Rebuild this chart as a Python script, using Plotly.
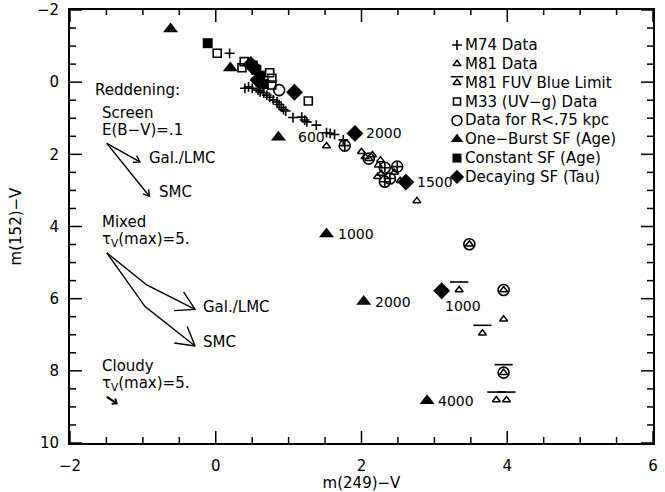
import numpy as np
import plotly.graph_objects as go

# ---------------- observed colours ----------------
# M74 (plus signs)
m74_x = [0.19, 0.40, 0.45, 0.50, 0.56, 0.58, 0.61, 0.66, 0.70, 0.74, 0.79, 0.84, 0.87, 0.90, 0.93,
         0.96, 1.06, 1.18, 1.22, 1.25, 1.38, 1.52, 1.57, 1.63, 1.75, 1.77, 2.32, 2.49, 2.32, 2.39]
m74_y = [-0.80, 0.17, 0.13, 0.17, -0.11, 0.22, 0.27, 0.30, 0.36, 0.42, 0.49, 0.55, 0.62, 0.70, 0.76,
         0.80, 0.98, 0.97, 1.05, 1.10, 1.19, 1.40, 1.42, 1.45, 1.60, 1.76, 2.37, 2.34, 2.76, 2.67]

# M81 (open triangles)
m81_x = [1.52, 2.00, 2.05, 2.10, 2.15, 2.23, 2.26, 2.22, 2.27, 2.45, 2.53, 2.76, 3.48, 3.95, 3.95]
m81_y = [1.77, 1.93, 2.07, 2.12, 2.02, 2.30, 2.16, 2.62, 2.53, 2.50, 2.73, 3.29, 4.49, 5.76, 6.57]

# M81 points that are only FUV blue limits
m81_lim_x = [3.34, 3.66, 3.95, 3.85, 3.99]
m81_lim_y = [5.76, 6.96, 8.05, 8.81, 8.81]

# M33 (UV-g) colours (open squares)
m33_x = [0.02, 0.36, 0.39, 0.51, 0.56, 0.61, 0.74, 0.77, 0.77, 1.27]
m33_y = [-0.80, -0.40, -0.57, -0.47, -0.34, -0.01, -0.26, -0.11, 0.08, 0.52]

# Data inside R < .75 kpc (open circles)
core_x = [0.87, 1.77, 2.10, 2.32, 2.49, 2.32, 2.39, 3.48, 3.95, 3.95]
core_y = [0.22, 1.76, 2.12, 2.37, 2.34, 2.76, 2.67, 4.49, 5.76, 8.05]

# ---------------- model tracks ----------------
burst_x = [-0.62, 0.20, 0.86, 1.52, 2.03, 2.90]
burst_y = [-1.47, -0.39, 1.53, 4.21, 6.08, 8.83]
burst_age = ["", "", "600", "1000", "2000", "4000"]

const_x = [-0.11, 0.55, 0.61, 0.66]
const_y = [-1.08, -0.35, -0.18, 0.05]

decay_x = [0.48, 0.58, 1.08, 1.91, 2.61, 3.10]
decay_y = [-0.49, -0.06, 0.28, 1.42, 2.77, 5.78]
decay_tau = ["", "", "", "2000", "1500", "1000"]

# ---------------- reddening vectors ----------------
screen_gal_x = [-1.495, -1.04]
screen_gal_y = [1.695, 2.21]
screen_smc_x = [-1.495, -0.91]
screen_smc_y = [1.695, 3.16]
mixed_gal_x = [-1.495, -0.947, -0.284]
mixed_gal_y = [4.73, 5.62, 6.30]
mixed_smc_x = [-1.495, -0.97, -0.284]
mixed_smc_y = [4.73, 6.22, 7.31]
cloudy_x = [-1.495, -1.36]
cloudy_y = [8.72, 8.90]

# ---------------- geometry ----------------
W, H = 665, 492
ML, MR, MT, MB = 70, 12, 10, 49
XR = (-2, 6)
YR = (10, -2)
PW, PH = W - ML - MR, H - MT - MB
FONT = "DejaVu Sans"


def to_px(x, y):
    px = ML + (np.asarray(x) - XR[0]) / (XR[1] - XR[0]) * PW
    py = MT + (np.asarray(y) - YR[1]) / (YR[0] - YR[1]) * PH
    return px, py


def to_data(px, py):
    x = XR[0] + (np.asarray(px) - ML) / PW * (XR[1] - XR[0])
    y = YR[1] + (np.asarray(py) - MT) / PH * (YR[0] - YR[1])
    return x, y


def head(xs, ys, length, half_angle_deg):
    """V-shaped arrow head at the last point of a path (screen space)."""
    px, py = to_px(xs[-2:], ys[-2:])
    d = np.array([px[1] - px[0], py[1] - py[0]])
    d /= np.hypot(*d)
    out_x, out_y = [], []
    for s in (1, -1):
        a = np.radians(s * half_angle_deg)
        r = np.array([d[0] * np.cos(a) - d[1] * np.sin(a), d[0] * np.sin(a) + d[1] * np.cos(a)])
        out_x.append(px[1] - length * r[0])
        out_y.append(py[1] - length * r[1])
    lx, ly = to_data(out_x, out_y)
    return [lx[0], xs[-1], lx[1]], [ly[0], ys[-1], ly[1]]


fig = go.Figure()
line_kw = dict(mode="lines", line=dict(color="black", width=1.4), hoverinfo="skip")

# inward tick marks on all four sides, drawn as line segments
x_per_px = (XR[1] - XR[0]) / PW
y_per_px = (YR[0] - YR[1]) / PH
tx, ty = [], []
for v in np.arange(XR[0], XR[1] + 1e-9, 0.5):
    major = abs(v / 2 - round(v / 2)) < 1e-9
    ln = (12 if major else 6) * y_per_px
    tx += [v, v, None, v, v, None]
    ty += [YR[0], YR[0] - ln, None, YR[1], YR[1] + (ln if major else 5 * y_per_px), None]
for v in np.arange(YR[1], YR[0] + 1e-9, 0.5):
    major = abs(v / 2 - round(v / 2)) < 1e-9
    ln = (12 if major else 6) * x_per_px
    tx += [XR[0], XR[0] + ln, None, XR[1], XR[1] - ln, None]
    ty += [v, v, None, v, v, None]
fig.add_trace(go.Scatter(x=tx, y=ty, mode="lines", line=dict(color="black", width=1.5),
                         hoverinfo="skip", cliponaxis=False))

# reddening vectors with open heads
for xs, ys, hl, ha in [(screen_gal_x, screen_gal_y, 7, 32), (screen_smc_x, screen_smc_y, 7, 32),
                       (mixed_gal_x, mixed_gal_y, 21, 30), (mixed_smc_x, mixed_smc_y, 21, 30)]:
    fig.add_trace(go.Scatter(x=xs, y=ys, **line_kw))
    hx, hy = head(xs, ys, hl, ha)
    fig.add_trace(go.Scatter(x=hx, y=hy, **line_kw))
fig.add_trace(go.Scatter(x=cloudy_x, y=cloudy_y, mode="lines",
                         line=dict(color="black", width=2.2), hoverinfo="skip"))
hx, hy = head(cloudy_x, cloudy_y, 5, 40)
fig.add_trace(go.Scatter(x=hx, y=hy, mode="lines", line=dict(color="black", width=2), hoverinfo="skip"))

blk = "black"
# observations
fig.add_trace(go.Scatter(x=m33_x, y=m33_y, mode="markers",
                         marker=dict(symbol="square-open", size=8, color=blk, line=dict(width=1.6))))
fig.add_trace(go.Scatter(x=m81_x, y=m81_y, mode="markers",
                         marker=dict(symbol="triangle-up-open", size=7, color=blk, line=dict(width=1.5))))
fig.add_trace(go.Scatter(x=m81_lim_x, y=m81_lim_y, mode="markers",
                         marker=dict(symbol="triangle-up-open", size=7, color=blk, line=dict(width=1.5))))
bar_off = 8.0 * y_per_px
fig.add_trace(go.Scatter(x=m81_lim_x, y=[v - bar_off for v in m81_lim_y], mode="markers",
                         marker=dict(symbol="line-ew-open", size=13, color=blk, line=dict(width=1.6))))
fig.add_trace(go.Scatter(x=m74_x, y=m74_y, mode="markers",
                         marker=dict(symbol="cross-thin-open", size=7, color=blk, line=dict(width=1.6))))
fig.add_trace(go.Scatter(x=core_x, y=core_y, mode="markers",
                         marker=dict(symbol="circle-open", size=11, color=blk, line=dict(width=1.6))))

# models
fig.add_trace(go.Scatter(x=burst_x, y=burst_y, mode="markers",
                         marker=dict(symbol="triangle-up", size=13, color=blk, line=dict(width=0))))
fig.add_trace(go.Scatter(x=const_x, y=const_y, mode="markers",
                         marker=dict(symbol="square", size=10, color=blk, line=dict(width=0))))
fig.add_trace(go.Scatter(x=decay_x, y=decay_y, mode="markers",
                         marker=dict(symbol="diamond", size=13, color=blk, line=dict(width=0))))

ann = []
lab_font = dict(family=FONT, size=14, color="black")
for x, y, t in zip(burst_x, burst_y, burst_age):
    if t:
        ann.append(dict(x=x, y=y, text=t, showarrow=False, xanchor="left", yanchor="middle",
                        xshift=18 if t == "600" else 9, font=lab_font))
for x, y, t in zip(decay_x, decay_y, decay_tau):
    if t == "1000":
        ann.append(dict(x=x, y=y, text=t, showarrow=False, xanchor="center", yanchor="middle",
                        xshift=21, yshift=-15, font=lab_font))
    elif t:
        ann.append(dict(x=x, y=y, text=t, showarrow=False, xanchor="left", yanchor="middle",
                        xshift=9, font=lab_font))

# reddening text block
txt_font = dict(family=FONT, size=15, color="black")
red_texts = [
    (93, 90, "Reddening:"), (100, 113, "Screen"), (100, 130, "E(B−V)=.1"),
    (147, 158, "Gal./LMC"), (157, 192, "SMC"),
    (100, 222, "Mixed"), (100, 239, "τ<sub>V</sub>(max)=5."),
    (201, 307, "Gal./LMC"), (201, 342, "SMC"),
    (100, 366, "Cloudy"), (100, 383, "τ<sub>V</sub>(max)=5."),
]
for px, py, t in red_texts:
    x, y = to_data(px, py)
    ann.append(dict(x=float(x), y=float(y), text=t, showarrow=False, xanchor="left",
                    yanchor="middle", font=txt_font))

# key
key_items = [
    ("M74 Data", dict(symbol="cross-thin-open", size=7, line=dict(width=1.6))),
    ("M81 Data", dict(symbol="triangle-up-open", size=7, line=dict(width=1.5))),
    ("M81 FUV Blue Limit", dict(symbol="triangle-up-open", size=7, line=dict(width=1.5))),
    ("M33 (UV−g) Data", dict(symbol="square-open", size=7, line=dict(width=1.5))),
    ("Data for R<.75 kpc", dict(symbol="circle-open", size=10, line=dict(width=1.5))),
    ("One−Burst SF (Age)", dict(symbol="triangle-up", size=11, line=dict(width=0))),
    ("Constant SF (Age)", dict(symbol="square", size=9, line=dict(width=0))),
    ("Decaying SF (Tau)", dict(symbol="diamond", size=11, line=dict(width=0))),
]
for i, (label, mk) in enumerate(key_items):
    py = 45 + 18.85 * i
    sx, sy = to_data(457, py)
    mk = dict(mk, color=blk)
    fig.add_trace(go.Scatter(x=[float(sx)], y=[float(sy)], mode="markers", marker=mk))
    if "Limit" in label:
        bx, by = to_data(457, py - 6)
        fig.add_trace(go.Scatter(x=[float(bx)], y=[float(by)], mode="markers",
                                 marker=dict(symbol="line-ew-open", size=9, color=blk, line=dict(width=1.4))))
    lx, ly = to_data(463, py)
    ann.append(dict(x=float(lx), y=float(ly), text=label, showarrow=False, xanchor="left",
                    yanchor="middle", font=txt_font))

axis_common = dict(
    showgrid=False, zeroline=False, showline=True, linecolor="black", linewidth=2,
    mirror=True, ticks="", tickfont=dict(family=FONT, size=15, color="black"), automargin=False,
)
fig.update_layout(
    width=W, height=H, margin=dict(l=ML, r=MR, t=MT, b=MB),
    paper_bgcolor="white", plot_bgcolor="white", showlegend=False,
    font=dict(family=FONT, size=15, color="black"),
    xaxis=dict(range=list(XR), tick0=-2, dtick=2, ticklabelstandoff=8,
               title=dict(text="m(249)−V", standoff=6, font=dict(family=FONT, size=15)),
               **axis_common),
    yaxis=dict(range=list(YR), tick0=-2, dtick=2, ticklabelstandoff=6,
               title=dict(text="m(152)−V", standoff=12, font=dict(family=FONT, size=15)),
               **axis_common),
    annotations=ann,
)

fig.write_html("out.html")
